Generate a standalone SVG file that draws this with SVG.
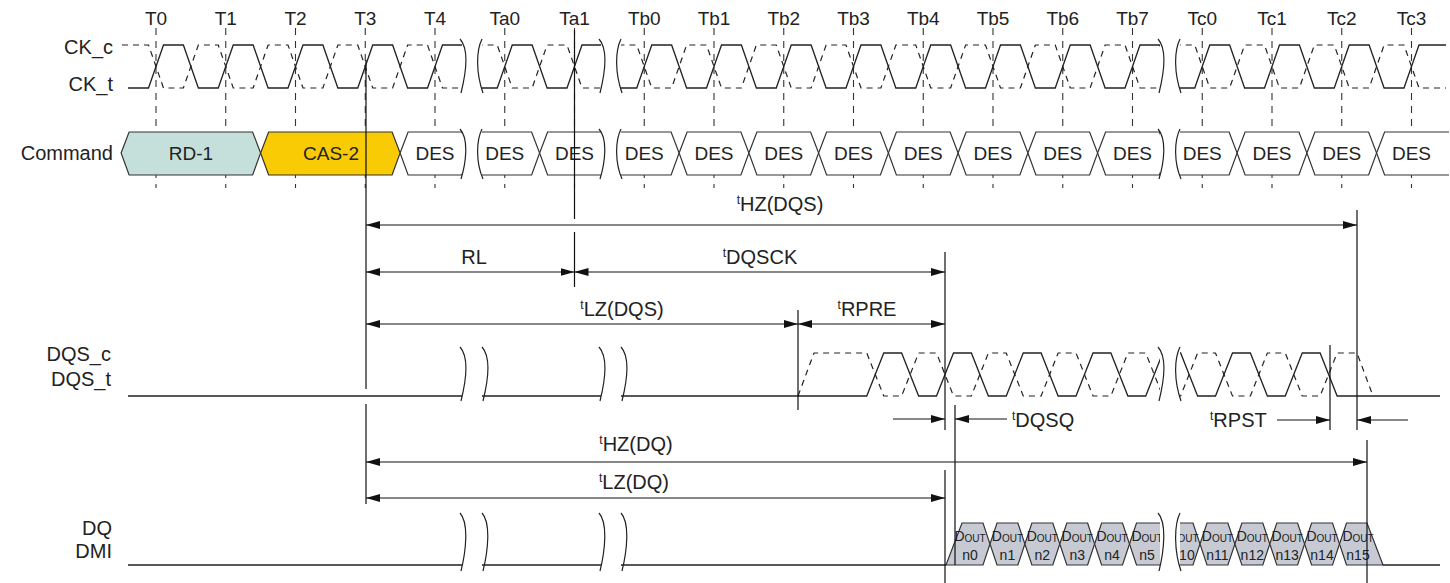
<svg xmlns="http://www.w3.org/2000/svg" width="1450" height="583" viewBox="0 0 1450 583">
<defs>
<marker id="arr" viewBox="0 0 14 8" refX="14" refY="4" markerWidth="14" markerHeight="8" markerUnits="userSpaceOnUse" orient="auto-start-reverse">
<path d="M0,0 L14,4 L0,8 z" fill="#111"/>
</marker>
</defs>
<style>
text{font-family:"Liberation Sans",Arial,sans-serif;fill:#222}
.lbl{font-size:20px}
.tk{font-size:19px}
.tl{font-size:20px;text-anchor:middle}
.tls{font-size:20px}
.sup{font-size:12px}
.sig{fill:none;stroke:#222;stroke-width:1.3}
.dash{fill:none;stroke:#222;stroke-width:1.2;stroke-dasharray:6 5}
.tick{stroke:#333;stroke-width:1.1;stroke-dasharray:7 6}
.vl{stroke:#111;stroke-width:1.2}
.arw{stroke:#111;stroke-width:1.2;marker-end:url(#arr)}
.arw2{stroke:#111;stroke-width:1.2;marker-start:url(#arr);marker-end:url(#arr)}
.cell{stroke:#333;stroke-width:1.2}
.des{fill:#fff}
.brk{fill:#fff;stroke:none}
.bc{fill:none;stroke:#222;stroke-width:1.2}
.dqc{fill:#c7cad3;stroke:#333;stroke-width:1.2}
.ct{font-size:19px;text-anchor:middle}
.dt{font-size:14px;text-anchor:middle}
.sub{font-size:10px}
</style>
<rect width="1450" height="583" fill="#fff"/>

<g id="clock-ticks">
<path class="tick" d="M156,28V188 M225.75,28V188 M295.5,28V188 M365.25,28V188 M435,28V188 M504.75,28V188 M574.5,28V188 M644.25,28V188 M714,28V188 M783.75,28V188 M853.5,28V188 M923.25,28V188 M993,28V188 M1062.75,28V188 M1132.5,28V188 M1202.25,28V188 M1272,28V188 M1341.75,28V188 M1411.5,28V188"/>
</g>

<g id="tick-labels" class="tk" text-anchor="middle">
<text x="156" y="25">T0</text><text x="225.75" y="25">T1</text><text x="295.5" y="25">T2</text><text x="365.25" y="25">T3</text><text x="435" y="25">T4</text><text x="504.75" y="25">Ta0</text><text x="574.5" y="25">Ta1</text><text x="644.25" y="25">Tb0</text><text x="714" y="25">Tb1</text><text x="783.75" y="25">Tb2</text><text x="853.5" y="25">Tb3</text><text x="923.25" y="25">Tb4</text><text x="993" y="25">Tb5</text><text x="1062.75" y="25">Tb6</text><text x="1132.5" y="25">Tb7</text><text x="1202.25" y="25">Tc0</text><text x="1272" y="25">Tc1</text><text x="1341.75" y="25">Tc2</text><text x="1411.5" y="25">Tc3</text>
</g>

<g id="signal-labels" class="lbl" text-anchor="end">
<text x="113" y="54">CK_c</text>
<text x="113" y="91">CK_t</text>
<text x="113" y="160">Command</text>
<text x="111" y="361">DQS_c</text>
<text x="111" y="386">DQS_t</text>
<text x="112" y="535">DQ</text>
<text x="112" y="558">DMI</text>
</g>

<g id="clock">
<path class="sig" d="M128,88H148.5l15,-43h19.875l15,43h19.875l15,-43h19.875l15,43h19.875l15,-43h19.875l15,43h19.875l15,-43h19.875l15,43h19.875l15,-43h19.875l15,43h19.875l15,-43h19.875l15,43h19.875l15,-43h19.875l15,43h19.875l15,-43h19.875l15,43h19.875l15,-43h19.875l15,43h19.875l15,-43h19.875l15,43h19.875l15,-43h19.875l15,43h19.875l15,-43h19.875l15,43h19.875l15,-43h19.875l15,43h19.875l15,-43h19.875l15,43h19.875l15,-43h19.875l15,43h19.875l15,-43h19.875l15,43h19.875l15,-43h19.875l15,43h19.875l15,-43h19.875l15,43h19.875l15,-43H1446"/>
<path class="dash" d="M122,45H148.5l15,43h19.875l15,-43h19.875l15,43h19.875l15,-43h19.875l15,43h19.875l15,-43h19.875l15,43h19.875l15,-43h19.875l15,43h19.875l15,-43h19.875l15,43h19.875l15,-43h19.875l15,43h19.875l15,-43h19.875l15,43h19.875l15,-43h19.875l15,43h19.875l15,-43h19.875l15,43h19.875l15,-43h19.875l15,43h19.875l15,-43h19.875l15,43h19.875l15,-43h19.875l15,43h19.875l15,-43h19.875l15,43h19.875l15,-43h19.875l15,43h19.875l15,-43h19.875l15,43h19.875l15,-43h19.875l15,43h19.875l15,-43h19.875l15,43h19.875l15,-43h19.875l15,43H1446"/>
<rect class="brk" x="462" y="37" width="20" height="58"/>
<rect class="brk" x="601" y="37" width="20" height="58"/>
<rect class="brk" x="1160" y="37" width="20" height="58"/>
<path class="bc" d="M460,39c9,10 6,34 1,54 M482,39c-6,12 -6,34 1,54 M599,39c9,10 6,34 1,54 M621,39c-6,12 -6,34 1,54 M1158,39c9,10 6,34 1,54 M1180,39c-6,12 -6,34 1,54"/>
</g>

<g id="command">
<g id="cmd-rd1"><polygon class="cell" fill="#c5dfdb" points="121.1,153 129.1,132 252.6,132 260.6,153 252.6,175 129.1,175"/><text class="ct" x="191" y="160">RD-1</text></g>
<g id="cmd-cas2"><polygon class="cell" fill="#f8cb05" points="260.6,153 268.6,132 392.1,132 400.1,153 392.1,175 268.6,175"/><text class="ct" x="331" y="160">CAS-2</text></g>
<g id="cmd-des">
<polygon class="cell des" points="400.1,153 408.1,132 461.9,132 469.9,153 461.9,175 408.1,175"/>
<polygon class="cell des" points="469.9,153 477.9,132 531.6,132 539.6,153 531.6,175 477.9,175"/>
<polygon class="cell des" points="539.6,153 547.6,132 601.4,132 609.4,153 601.4,175 547.6,175"/>
<polygon class="cell des" points="609.4,153 617.4,132 671.1,132 679.1,153 671.1,175 617.4,175"/>
<polygon class="cell des" points="679.1,153 687.1,132 740.9,132 748.9,153 740.9,175 687.1,175"/>
<polygon class="cell des" points="748.9,153 756.9,132 810.6,132 818.6,153 810.6,175 756.9,175"/>
<polygon class="cell des" points="818.6,153 826.6,132 880.4,132 888.4,153 880.4,175 826.6,175"/>
<polygon class="cell des" points="888.4,153 896.4,132 950.1,132 958.1,153 950.1,175 896.4,175"/>
<polygon class="cell des" points="958.1,153 966.1,132 1019.9,132 1027.9,153 1019.9,175 966.1,175"/>
<polygon class="cell des" points="1027.9,153 1035.9,132 1089.6,132 1097.6,153 1089.6,175 1035.9,175"/>
<polygon class="cell des" points="1097.6,153 1105.6,132 1159.4,132 1167.4,153 1159.4,175 1105.6,175"/>
<polygon class="cell des" points="1167.4,153 1175.4,132 1229.1,132 1237.1,153 1229.1,175 1175.4,175"/>
<polygon class="cell des" points="1237.1,153 1245.1,132 1298.9,132 1306.9,153 1298.9,175 1245.1,175"/>
<polygon class="cell des" points="1306.9,153 1314.9,132 1368.6,132 1376.6,153 1368.6,175 1314.9,175"/>
<path class="cell des" d="M1449,132H1384.6L1376.6,153L1384.6,175H1449"/>
<text class="ct" x="435" y="160">DES</text><text class="ct" x="504.75" y="160">DES</text><text class="ct" x="574.5" y="160">DES</text><text class="ct" x="644.25" y="160">DES</text><text class="ct" x="714" y="160">DES</text><text class="ct" x="783.75" y="160">DES</text><text class="ct" x="853.5" y="160">DES</text><text class="ct" x="923.25" y="160">DES</text><text class="ct" x="993" y="160">DES</text><text class="ct" x="1062.75" y="160">DES</text><text class="ct" x="1132.5" y="160">DES</text><text class="ct" x="1202.25" y="160">DES</text><text class="ct" x="1272" y="160">DES</text><text class="ct" x="1341.75" y="160">DES</text><text class="ct" x="1411.5" y="160">DES</text>
</g>
<rect class="brk" x="462" y="127" width="20" height="54"/>
<rect class="brk" x="601" y="127" width="20" height="54"/>
<rect class="brk" x="1160" y="127" width="20" height="54"/>
<path class="bc" d="M460,129c9,10 6,34 1,50 M482,129c-6,12 -6,34 1,50 M599,129c9,10 6,34 1,50 M621,129c-6,12 -6,34 1,50 M1158,129c9,10 6,34 1,50 M1180,129c-6,12 -6,34 1,50"/>
</g>

<g id="dqs">
<path class="sig" d="M128,396H866.75l17,-43h17.875l17,43h17.875l17,-43h17.875l17,43h17.875l17,-43h17.875l17,43h17.875l17,-43h17.875l17,43h17.875l17,-43h17.875l17,43h17.875l17,-43h17.875l17,43h17.875l17,-43h17.875l17,43h17.875H1440"/>
<path class="dash" d="M798,396l16,-43H866.75l17,43h17.875l17,-43h17.875l17,43h17.875l17,-43h17.875l17,43h17.875l17,-43h17.875l17,43h17.875l17,-43h17.875l17,43h17.875l17,-43h17.875l17,43h17.875l17,-43h17.875l17,43h17.875l17,-43h17.875H1357l16,43"/>
<rect class="brk" x="462" y="345" width="20" height="58"/>
<rect class="brk" x="601" y="345" width="20" height="58"/>
<rect class="brk" x="1160" y="345" width="20" height="58"/>
<path class="bc" d="M460,347c9,10 6,34 1,54 M482,347c9,10 6,34 1,54 M599,347c9,10 6,34 1,54 M621,347c9,10 6,34 1,54 M1158,347c9,10 6,34 1,54 M1180,347c-6,12 -6,34 1,54"/>
</g>

<g id="dq">
<path class="sig" d="M128,565H946 M1383,565H1440"/>
<g id="dq-n0"><polygon class="dqc" points="946,565 962,523 983,523 990,544 983,565"/><text class="dt" x="970" y="541">D<tspan class="sub" dy="1">OUT</tspan></text><text class="dt" x="970" y="560">n0</text></g>
<g id="dq-n1"><polygon class="dqc" points="990,544 997,523 1017.9,523 1024.9,544 1017.9,565 997,565"/><text class="dt" x="1007.4" y="541">D<tspan class="sub" dy="1">OUT</tspan></text><text class="dt" x="1007.4" y="560">n1</text></g>
<g id="dq-n2"><polygon class="dqc" points="1024.9,544 1031.9,523 1052.8,523 1059.8,544 1052.8,565 1031.9,565"/><text class="dt" x="1042.3" y="541">D<tspan class="sub" dy="1">OUT</tspan></text><text class="dt" x="1042.3" y="560">n2</text></g>
<g id="dq-n3"><polygon class="dqc" points="1059.8,544 1066.8,523 1087.6,523 1094.6,544 1087.6,565 1066.8,565"/><text class="dt" x="1077.2" y="541">D<tspan class="sub" dy="1">OUT</tspan></text><text class="dt" x="1077.2" y="560">n3</text></g>
<g id="dq-n4"><polygon class="dqc" points="1094.6,544 1101.6,523 1122.5,523 1129.5,544 1122.5,565 1101.6,565"/><text class="dt" x="1112" y="541">D<tspan class="sub" dy="1">OUT</tspan></text><text class="dt" x="1112" y="560">n4</text></g>
<g id="dq-n5"><polygon class="dqc" points="1129.5,544 1136.5,523 1175,523 1175,565 1136.5,565"/><text class="dt" x="1147" y="541">D<tspan class="sub" dy="1">OUT</tspan></text><text class="dt" x="1147" y="560">n5</text></g>
<g id="dq-n10"><polygon class="dqc" points="1165,523 1193,523 1200,544 1193,565 1165,565"/><text class="dt" x="1183" y="541">D<tspan class="sub" dy="1">OUT</tspan></text><text class="dt" x="1183" y="560">n10</text></g>
<g id="dq-n11"><polygon class="dqc" points="1200,544 1207,523 1227.9,523 1234.9,544 1227.9,565 1207,565"/><text class="dt" x="1217.4" y="541">D<tspan class="sub" dy="1">OUT</tspan></text><text class="dt" x="1217.4" y="560">n11</text></g>
<g id="dq-n12"><polygon class="dqc" points="1234.9,544 1241.9,523 1262.8,523 1269.8,544 1262.8,565 1241.9,565"/><text class="dt" x="1252.3" y="541">D<tspan class="sub" dy="1">OUT</tspan></text><text class="dt" x="1252.3" y="560">n12</text></g>
<g id="dq-n13"><polygon class="dqc" points="1269.8,544 1276.8,523 1297.6,523 1304.6,544 1297.6,565 1276.8,565"/><text class="dt" x="1287.2" y="541">D<tspan class="sub" dy="1">OUT</tspan></text><text class="dt" x="1287.2" y="560">n13</text></g>
<g id="dq-n14"><polygon class="dqc" points="1304.6,544 1311.6,523 1332.5,523 1339.5,544 1332.5,565 1311.6,565"/><text class="dt" x="1322" y="541">D<tspan class="sub" dy="1">OUT</tspan></text><text class="dt" x="1322" y="560">n14</text></g>
<g id="dq-n15"><polygon class="dqc" points="1339.5,544 1346.5,523 1367,523 1383,565 1346.5,565"/><text class="dt" x="1358" y="541">D<tspan class="sub" dy="1">OUT</tspan></text><text class="dt" x="1358" y="560">n15</text></g>
<rect class="brk" x="462" y="511" width="20" height="62"/>
<rect class="brk" x="601" y="511" width="20" height="62"/>
<rect class="brk" x="1160" y="511" width="20" height="62"/>
<path class="bc" d="M460,513c9,10 6,38 1,58 M482,513c9,10 6,38 1,58 M599,513c9,10 6,38 1,58 M621,513c9,10 6,38 1,58 M1158,513c9,10 6,38 1,58 M1180,513c-6,12 -6,38 1,58"/>
</g>

<g id="connectors">
<path class="vl" d="M366,60V389 M366,404V504 M574.5,30V219 M574.5,232V287 M798,310V410 M945,252V430 M945,470V583 M955,405V565 M1330,345V430 M1357,210V430 M1367,440V583"/>
<line class="arw2" x1="366" y1="225" x2="1357" y2="225"/>
<line class="arw2" x1="366" y1="272" x2="574.5" y2="272"/>
<line class="arw2" x1="574.5" y1="272" x2="945" y2="272"/>
<line class="arw2" x1="366" y1="324" x2="798" y2="324"/>
<line class="arw2" x1="798" y1="324" x2="945" y2="324"/>
<line class="arw" x1="893" y1="419" x2="945" y2="419"/>
<line class="arw" x1="1007" y1="419" x2="955" y2="419"/>
<line class="arw" x1="1277" y1="420" x2="1330" y2="420"/>
<line class="arw" x1="1408" y1="420" x2="1357" y2="420"/>
<line class="arw2" x1="366" y1="462" x2="1367" y2="462"/>
<line class="arw2" x1="366" y1="498" x2="945" y2="498"/>
</g>

<g id="timing-labels">
<text class="tl" x="780" y="211"><tspan class="sup" dy="-7">t</tspan><tspan dy="7">HZ(DQS)</tspan></text>
<text class="tl" x="474" y="264">RL</text>
<text class="tl" x="760" y="264"><tspan class="sup" dy="-7">t</tspan><tspan dy="7">DQSCK</tspan></text>
<text class="tl" x="622" y="316"><tspan class="sup" dy="-7">t</tspan><tspan dy="7">LZ(DQS)</tspan></text>
<text class="tl" x="867" y="316"><tspan class="sup" dy="-7">t</tspan><tspan dy="7">RPRE</tspan></text>
<text class="tls" x="1012" y="427"><tspan class="sup" dy="-7">t</tspan><tspan dy="7">DQSQ</tspan></text>
<text class="tls" x="1210" y="427"><tspan class="sup" dy="-7">t</tspan><tspan dy="7">RPST</tspan></text>
<text class="tl" x="636" y="451"><tspan class="sup" dy="-7">t</tspan><tspan dy="7">HZ(DQ)</tspan></text>
<text class="tl" x="634" y="489"><tspan class="sup" dy="-7">t</tspan><tspan dy="7">LZ(DQ)</tspan></text>
</g>
</svg>
